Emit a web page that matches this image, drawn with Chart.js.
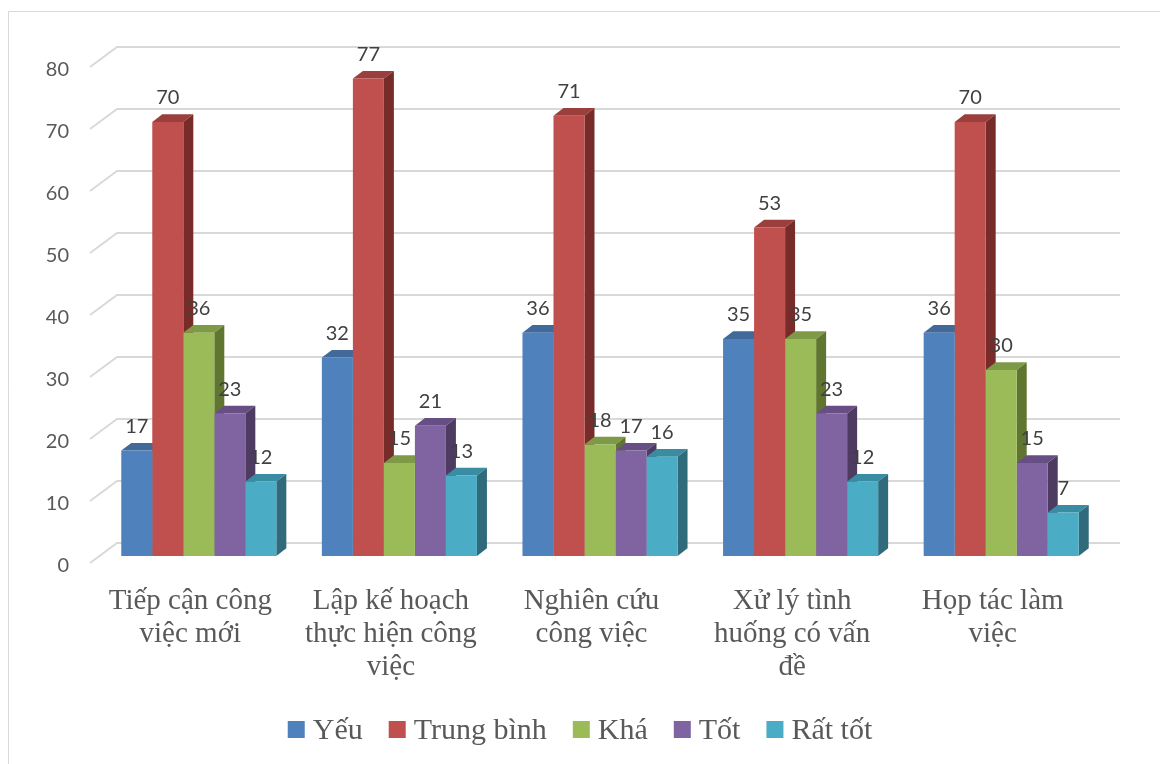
<!DOCTYPE html>
<html>
<head>
<meta charset="utf-8">
<script src="https://cdn.jsdelivr.net/npm/chart.js@4/dist/chart.umd.min.js"></script>
<style>
  body { margin: 0; background: #fff; }
  #wrap { width: 1160px; height: 764px; }
</style>
</head>
<body>
<div id="wrap"><canvas id="skillChart" width="1160" height="764"></canvas></div>
<script>
const categories = [
    ['Tiếp cận công', 'việc mới'],
    ['Lập kế hoạch', 'thực hiện công', 'việc'],
    ['Nghiên cứu', 'công việc'],
    ['Xử lý tình', 'huống có vấn', 'đề'],
    ['Họp tác làm', 'việc']
];
const seriesNames = ['Yếu', 'Trung bình', 'Khá', 'Tốt', 'Rất tốt'];
const yeu = [17, 32, 36, 35, 36];
const trungBinh = [70, 77, 71, 53, 70];
const kha = [36, 15, 18, 35, 30];
const tot = [23, 21, 17, 23, 15];
const ratTot = [12, 13, 16, 12, 7];
const yTicks = [0, 10, 20, 30, 40, 50, 60, 70, 80];

const fronts = ['#4f81bd', '#c0504d', '#9bbb59', '#8064a2', '#4bacc6'];
const tops   = ['#41699a', '#9a3f3c', '#7e9a47', '#674f85', '#3a8ca3'];
const sides  = ['#385d8a', '#772c2a', '#5f7530', '#4d3b62', '#2f6b7b'];

// depth of each bar and offset of the back wall
const DX = 10, DY = 7.7;
const WALL_DX = 18.5, WALL_DY = -13;

const serif = "'Liberation Serif', 'Times New Roman', serif";

const bars3d = {
    id: 'bars3d',
    beforeDraw(chart) {
        const ctx = chart.ctx;
        ctx.save();
        ctx.strokeStyle = '#d9d9d9';
        ctx.lineWidth = 1;
        ctx.beginPath();
        ctx.moveTo(8.5, 764);
        ctx.lineTo(8.5, 11.5);
        ctx.lineTo(1160, 11.5);
        ctx.stroke();
        ctx.restore();
    },
    beforeDatasetsDraw(chart) {
        const ctx = chart.ctx;
        const area = chart.chartArea;
        const y = chart.scales.y;
        ctx.save();
        // back wall and left side grid lines
        ctx.strokeStyle = '#d9d9d9';
        ctx.lineWidth = 2;
        yTicks.forEach(v => {
            const py = y.getPixelForValue(v);
            ctx.beginPath();
            ctx.moveTo(area.left - 8.5, py + 7);
            ctx.lineTo(area.left + WALL_DX, py + WALL_DY);
            ctx.lineTo(area.right + WALL_DX, py + WALL_DY);
            ctx.stroke();
        });
        // top and side faces, fronts are drawn by the bar controller
        chart.data.datasets.forEach((ds, i) => {
            const meta = chart.getDatasetMeta(i);
            meta.data.forEach(bar => {
                const p = bar.getProps(['x', 'y', 'base', 'width'], true);
                const l = p.x - p.width / 2, r = p.x + p.width / 2;
                ctx.fillStyle = tops[i];
                ctx.beginPath();
                ctx.moveTo(l, p.y);
                ctx.lineTo(l + DX, p.y - DY);
                ctx.lineTo(r + DX, p.y - DY);
                ctx.lineTo(r, p.y);
                ctx.closePath();
                ctx.fill();
                ctx.fillStyle = sides[i];
                ctx.beginPath();
                ctx.moveTo(r, p.y);
                ctx.lineTo(r + DX, p.y - DY);
                ctx.lineTo(r + DX, p.base - DY);
                ctx.lineTo(r, p.base);
                ctx.closePath();
                ctx.fill();
            });
        });
        ctx.restore();
    },
    afterDatasetsDraw(chart) {
        const ctx = chart.ctx;
        ctx.save();
        ctx.font = '20px Lato';
        ctx.fillStyle = '#404040';
        ctx.textAlign = 'center';
        ctx.textBaseline = 'middle';
        chart.data.datasets.forEach((ds, i) => {
            chart.getDatasetMeta(i).data.forEach((bar, j) => {
                ctx.fillText(String(ds.data[j]), bar.x, bar.y - 24);
            });
        });
        ctx.restore();
    },
    afterDraw(chart) {
        // legend row
        const ctx = chart.ctx;
        ctx.save();
        ctx.font = '30px ' + serif;
        const box = 17, gap = 8, spacing = 26;
        const widths = seriesNames.map(n => ctx.measureText(n).width);
        const total = widths.reduce((a, w) => a + box + gap + w, 0) + spacing * (seriesNames.length - 1);
        let x = 580 - total / 2;
        const base = 739;
        ctx.textBaseline = 'alphabetic';
        ctx.textAlign = 'left';
        seriesNames.forEach((n, i) => {
            ctx.fillStyle = fronts[i];
            ctx.fillRect(x, base - 18, box, box);
            ctx.fillStyle = '#595959';
            ctx.fillText(n, x + box + gap, base);
            x += box + gap + widths[i] + spacing;
        });
        ctx.restore();
    }
};

const ctx = document.getElementById('skillChart').getContext('2d');
const chart = new Chart(ctx, {
    type: 'bar',
    data: {
        labels: categories,
        datasets: [yeu, trungBinh, kha, tot, ratTot].map((d, i) => ({
            label: seriesNames[i],
            data: d,
            backgroundColor: fronts[i],
            borderWidth: 0,
            categoryPercentage: 0.773,
            barPercentage: 1.0
        }))
    },
    options: {
        responsive: false,
        devicePixelRatio: 1,
        animation: false,
        layout: { padding: { left: 0, top: 60, right: 58.5, bottom: 0 } },
        plugins: {
            legend: { display: false },
            tooltip: { enabled: false }
        },
        scales: {
            x: {
                grid: { display: false, drawTicks: false },
                border: { display: false },
                ticks: {
                    font: { family: serif, size: 29, lineHeight: 1.14 },
                    color: '#595959',
                    padding: 29,
                    labelOffset: -8.5,
                    maxRotation: 0,
                    autoSkip: false
                },
                afterFit: s => { s.height = 208; }
            },
            y: {
                min: 0,
                max: 80,
                grid: { display: false, drawTicks: false },
                border: { display: false },
                ticks: {
                    stepSize: 10,
                    font: { family: 'Lato', size: 20 },
                    color: '#595959',
                    padding: 29.5,
                    labelOffset: 10
                },
                afterFit: s => { s.width = 98.5; }
            }
        }
    },
    plugins: [bars3d]
});
</script>
</body>
</html>
